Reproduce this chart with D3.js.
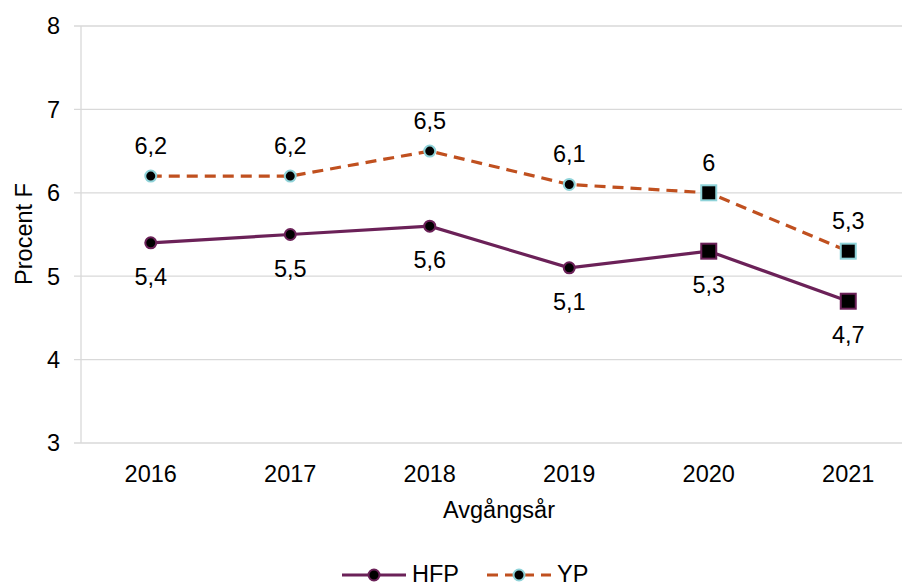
<!DOCTYPE html>
<html><head><meta charset="utf-8">
<script src="https://cdn.jsdelivr.net/npm/d3@7"></script>
<style>body{margin:0;background:#fff}svg{display:block;font-family:"Liberation Sans",Arial,sans-serif}</style>
</head><body><svg id="c" width="902" height="582"></svg>
<script>
const years = ["2016","2017","2018","2019","2020","2021"];
const hfp = [5.4, 5.5, 5.6, 5.1, 5.3, 4.7];
const yp = [6.2, 6.2, 6.5, 6.1, 6.0, 5.3];
const yTicks = [3,4,5,6,7,8];
const squareYears = ["2020","2021"];
const fmt = v => String(v).replace(".", ",");

const FS = 23.5;
const svg = d3.select("#c");
const x = d3.scaleBand().domain(years).range([81, 918]);
const y = d3.scaleLinear().domain([3, 8]).range([443, 26]);
const cx = d => x(d) + x.bandwidth()/2;

// gridlines
svg.append("g").selectAll("line").data(yTicks).join("line")
  .attr("x1", 74).attr("x2", 902).attr("y1", d => y(d)).attr("y2", d => y(d))
  .attr("stroke", "#d9d9d9").attr("stroke-width", 1.3);
svg.append("line").attr("x1", 81).attr("x2", 81).attr("y1", y(8)).attr("y2", y(3))
  .attr("stroke", "#d9d9d9").attr("stroke-width", 1.3);

// y tick labels
svg.append("g").selectAll("text").data(yTicks).join("text")
  .attr("x", 60).attr("y", d => y(d)).attr("dy", "0.36em").attr("text-anchor", "end")
  .attr("font-size", FS).attr("fill", "#000").text(d => d);
// x tick labels
svg.append("g").selectAll("text").data(years).join("text")
  .attr("x", d => cx(d)).attr("y", 482).attr("text-anchor", "middle")
  .attr("font-size", FS).attr("fill", "#000").text(d => d);

svg.append("text").attr("transform", "translate(32,234) rotate(-90)").attr("text-anchor", "middle")
  .attr("font-size", FS).text("Procent F");
svg.append("text").attr("x", 499).attr("y", 518).attr("text-anchor", "middle")
  .attr("font-size", FS).text("Avgångsår");

const series = [
  {name: "HFP", vals: hfp, color: "#6b2158", mstroke: "#6b2158", dash: null, labelDy: 42},
  {name: "YP", vals: yp, color: "#c0501f", mstroke: "#8fd3d9", dash: "11,7", labelDy: -22}
];

const line = d3.line().x(d => cx(d.year)).y(d => y(d.v));
series.forEach(s => {
  const pts = years.map((yr, i) => ({year: yr, v: s.vals[i]}));
  svg.append("path").datum(pts).attr("d", line).attr("fill", "none")
    .attr("stroke", s.color).attr("stroke-width", 3.2)
    .attr("stroke-dasharray", s.dash);
  const g = svg.append("g");
  pts.forEach(p => {
    if (squareYears.includes(p.year)) {
      g.append("rect").attr("x", cx(p.year)-7.5).attr("y", y(p.v)-7.5).attr("width", 15).attr("height", 15)
        .attr("fill", "#000").attr("stroke", s.mstroke).attr("stroke-width", 2);
    } else {
      g.append("circle").attr("cx", cx(p.year)).attr("cy", y(p.v)).attr("r", 5.5)
        .attr("fill", "#000").attr("stroke", s.mstroke).attr("stroke-width", 2);
    }
    g.append("text").attr("x", cx(p.year)).attr("y", y(p.v) + s.labelDy).attr("text-anchor", "middle")
      .attr("font-size", FS).attr("fill", "#000").text(fmt(p.v));
  });
});

// legend
const lg = svg.append("g");
const leg = [{s: series[0], x0: 342, tx: 412}, {s: series[1], x0: 487, tx: 557}];
leg.forEach(l => {
  lg.append("line").attr("x1", l.x0).attr("x2", l.x0+64).attr("y1", 575).attr("y2", 575)
    .attr("stroke", l.s.color).attr("stroke-width", 3.2).attr("stroke-dasharray", l.s.dash);
  lg.append("circle").attr("cx", l.x0+32).attr("cy", 575).attr("r", 5.5)
    .attr("fill", "#000").attr("stroke", l.s.mstroke).attr("stroke-width", 2);
  lg.append("text").attr("x", l.tx).attr("y", 582).attr("font-size", FS).text(l.s.name);
});
</script></body></html>
